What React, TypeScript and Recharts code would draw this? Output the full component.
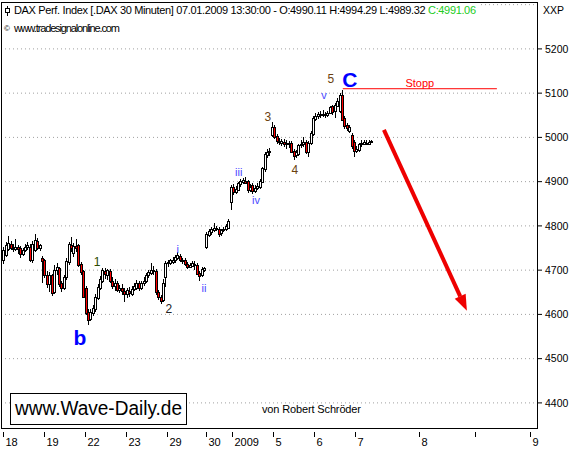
import {
  ComposedChart,
  Bar,
  XAxis,
  YAxis,
  CartesianGrid,
  ReferenceLine,
  ReferenceDot,
} from 'recharts';

// DAX 30-minute candles, [open, high, low, close], one list per trading session
const dec18 = [
  [4723, 4752, 4714, 4746], [4734, 4764, 4730, 4757], [4748, 4778, 4744, 4762], [4760, 4766, 4745, 4750],
  [4750, 4758, 4740, 4748], [4748, 4770, 4744, 4752], [4752, 4757, 4736, 4747], [4750, 4754, 4728, 4736],
  [4736, 4750, 4732, 4745], [4745, 4758, 4741, 4752], [4752, 4764, 4746, 4757], [4753, 4758, 4718, 4724],
  [4722, 4766, 4716, 4760], [4746, 4782, 4742, 4768], [4766, 4772, 4746, 4750], [4750, 4760, 4744, 4756],
  [4728, 4732, 4671, 4720],
];
const dec19 = [
  [4722, 4726, 4682, 4688], [4690, 4698, 4660, 4668], [4668, 4695, 4650, 4690], [4688, 4692, 4642, 4648],
  [4650, 4712, 4645, 4700], [4700, 4716, 4688, 4706], [4704, 4708, 4662, 4668], [4670, 4676, 4650, 4660],
  [4660, 4690, 4655, 4684], [4684, 4728, 4678, 4720], [4718, 4764, 4712, 4758], [4756, 4775, 4740, 4750],
  [4738, 4762, 4730, 4755], [4755, 4770, 4742, 4750], [4756, 4760, 4708, 4712], [4714, 4718, 4690, 4696],
  [4698, 4700, 4636, 4640],
];
const dec22 = [
  [4660, 4664, 4598, 4604], [4606, 4612, 4576, 4588], [4590, 4612, 4584, 4605], [4604, 4622, 4596, 4615],
  [4612, 4646, 4606, 4640], [4638, 4668, 4632, 4662], [4660, 4686, 4655, 4680], [4676, 4705, 4670, 4700],
  [4698, 4704, 4680, 4692], [4690, 4703, 4678, 4700], [4698, 4702, 4670, 4675], [4676, 4684, 4658, 4664],
  [4664, 4680, 4652, 4672], [4672, 4676, 4650, 4656], [4656, 4666, 4648, 4660], [4660, 4668, 4644, 4652],
  [4654, 4660, 4628, 4646],
];
const dec23 = [
  [4646, 4660, 4636, 4656], [4654, 4662, 4640, 4648], [4646, 4664, 4642, 4658], [4658, 4670, 4652, 4664],
  [4660, 4678, 4656, 4672], [4672, 4676, 4654, 4660], [4660, 4676, 4656, 4670], [4670, 4684, 4664, 4676],
  [4676, 4694, 4670, 4690], [4688, 4700, 4682, 4696], [4694, 4716, 4688, 4700], [4700, 4710, 4690, 4698],
  [4698, 4702, 4644, 4650], [4650, 4656, 4632, 4640], [4640, 4644, 4624, 4630], [4632, 4680, 4628, 4672],
  [4684, 4720, 4662, 4716],
];
const dec29 = [
  [4716, 4724, 4708, 4718], [4716, 4726, 4712, 4722], [4718, 4730, 4714, 4724], [4722, 4734, 4716, 4730],
  [4728, 4740, 4722, 4734], [4732, 4736, 4718, 4722], [4722, 4728, 4714, 4720], [4724, 4728, 4710, 4714],
  [4714, 4718, 4702, 4708], [4708, 4716, 4704, 4712], [4710, 4720, 4706, 4716], [4714, 4720, 4700, 4712],
  [4712, 4716, 4688, 4692], [4694, 4698, 4676, 4686], [4688, 4706, 4684, 4702], [4700, 4708, 4696, 4704],
];
const dec30 = [
  [4752, 4786, 4748, 4782], [4780, 4792, 4774, 4788], [4786, 4798, 4780, 4792], [4790, 4806, 4786, 4796],
  [4796, 4800, 4788, 4794], [4794, 4798, 4774, 4782], [4784, 4794, 4778, 4790], [4790, 4798, 4786, 4794],
  [4792, 4804, 4788, 4800], [4796, 4816, 4792, 4812],
];
const jan2 = [
  [4855, 4892, 4836, 4888], [4888, 4894, 4870, 4876], [4876, 4890, 4872, 4884], [4882, 4900, 4878, 4896],
  [4894, 4906, 4888, 4902], [4900, 4908, 4894, 4904], [4902, 4910, 4894, 4898], [4902, 4904, 4874, 4880],
  [4882, 4894, 4876, 4888], [4892, 4896, 4872, 4878], [4878, 4892, 4874, 4886], [4886, 4896, 4880, 4890],
  [4888, 4906, 4884, 4902], [4900, 4934, 4896, 4930], [4928, 4968, 4922, 4962], [4960, 4974, 4954, 4968],
  [4966, 4976, 4958, 4970],
];
const jan5 = [
  [5006, 5034, 5000, 5024], [5024, 5028, 4996, 5002], [5004, 5008, 4986, 4992], [4992, 4998, 4982, 4990],
  [4988, 4996, 4980, 4992], [4990, 4996, 4978, 4986], [4986, 4994, 4974, 4988], [4988, 4992, 4976, 4984],
  [4988, 4992, 4964, 4968], [4970, 4974, 4950, 4958], [4960, 4972, 4954, 4966], [4962, 4986, 4958, 4982],
  [4982, 4994, 4976, 4986], [4984, 5000, 4978, 4990], [4990, 4994, 4962, 4966], [4966, 4992, 4956, 4988],
  [4988, 5014, 4982, 5010], [5008, 5048, 5004, 5044],
];
const jan6 = [
  [5042, 5056, 5036, 5048], [5048, 5058, 5042, 5052], [5052, 5060, 5044, 5050], [5050, 5062, 5046, 5054],
  [5054, 5058, 5044, 5050], [5050, 5060, 5046, 5056], [5056, 5072, 5052, 5068], [5072, 5074, 5050, 5058],
  [5060, 5078, 5044, 5074], [5072, 5088, 5068, 5082], [5060, 5100, 5056, 5096], [5096, 5108, 5036, 5040],
  [5044, 5048, 5020, 5026], [5028, 5032, 5014, 5022], [5014, 5028, 5010, 5024], [5006, 5010, 4974, 4980],
  [4990, 4994, 4956, 4970],
];
const jan7 = [
  [4970, 4980, 4964, 4974], [4972, 4988, 4966, 4984], [4984, 4994, 4978, 4988], [4986, 4994, 4982, 4990],
  [4988, 4994, 4982, 4986], [4986, 4994, 4984, 4990], [4990.11, 4994.29, 4989.32, 4991.06],
];
const sessions = [dec18, dec19, dec22, dec23, dec29, dec30, jan2, jan5, jan6, jan7];

// time axis: bar slots where each date label sits (8 / blank / 9 lie in the projection area)
const xTickSlots = [0.8, 17.8, 34.7, 51.7, 68.6, 84.7, 95.5, 112.4, 129.3, 146.3, 172.7, 195.9, 218.6];
const xTickLabels = ['18', '19', '22', '23', '29', '30', '2009', '5', '6', '7', '8', '', '9'];
const priceTicks = [4400, 4500, 4600, 4700, 4800, 4900, 5000, 5100, 5200];
const gridPrices = [4400, 4500, 4600, 4700, 4800, 4900, 5000, 5100, 5200, 5300];

const stopLevel = 5110;
const stopFrom = 141.3;
const stopTo = 205;
const arrowStart = { x: 158.3, y: 5017 };
const arrowEnd = { x: 192.6, y: 4608 };

// Elliott wave counts: [text, bar slot, price, style]
const waveLabels: [string, number, number, string][] = [
  ['b', 32.6, 4547, 'major'],
  ['C', 144.2, 5130, 'major'],
  ['1', 39.7, 4719, 'one'],
  ['2', 69.4, 4612, 'two'],
  ['3', 110.3, 5046, 'wave'],
  ['4', 121.5, 4927, 'wave'],
  ['5', 136.4, 5132, 'wave'],
  ['i', 73.1, 4748, 'minor'],
  ['ii', 83.9, 4660, 'minor'],
  ['iii', 98.3, 4922, 'minor'],
  ['iv', 105.4, 4859, 'minor'],
  ['v', 133.5, 5096, 'minor'],
];

const FONT = '"Liberation Sans", Arial, sans-serif';

const labelStyles: Record<string, { fill: string; fontSize: number; fontWeight: string }> = {
  major: { fill: '#0000ff', fontSize: 21, fontWeight: 'bold' },
  one: { fill: '#2d4a00', fontSize: 12, fontWeight: 'normal' },
  two: { fill: '#222222', fontSize: 12, fontWeight: 'normal' },
  wave: { fill: '#6b3f10', fontSize: 12, fontWeight: 'normal' },
  minor: { fill: '#4a4aff', fontSize: 11, fontWeight: 'normal' },
};

const candles = sessions.flat().map((row, idx) => {
  const [o, h, l, c] = row;
  return { i: idx + 1, o, h, l, c, range: [l, h] };
});

const Candle = (props: any) => {
  const { x, y, width, height, payload } = props;
  if (!payload) return null;
  const top = height < 0 ? y + height : y;
  const span = Math.abs(height);
  const { o, h, l, c } = payload;
  const k = h > l ? span / (h - l) : 0;
  const py = (v: number) => top + (h - v) * k;
  const cx = Math.round(x + width / 2);
  const bodyTop = Math.round(py(Math.max(o, c)));
  const bodyBot = Math.round(py(Math.min(o, c)));
  return (
    <g>
      <line x1={cx + 0.5} x2={cx + 0.5} y1={Math.round(top)} y2={Math.round(top + span)} stroke="#000" />
      <rect
        x={cx - 0.5}
        y={bodyTop + 0.5}
        width={2}
        height={Math.max(bodyBot - bodyTop, 1)}
        fill={c >= o ? '#ffffff' : '#ff0000'}
        stroke="#000"
      />
    </g>
  );
};

const DayTick = (props: any) => {
  const { x, y, payload } = props;
  const idx = xTickSlots.indexOf(payload.value);
  const text = idx >= 0 ? xTickLabels[idx] : '';
  const px = Math.round(x) + 0.5;
  return (
    <g>
      <line x1={px} x2={px} y1={y + 3} y2={y + 8} stroke="#000" />
      <text x={px + 2} y={y + 17} fontSize={11} fontFamily={FONT} fill="#000">
        {text}
      </text>
    </g>
  );
};

const Arrow = (props: any) => {
  const { x1, y1, x2, y2 } = props;
  const ang = Math.atan2(y2 - y1, x2 - x1);
  const cos = Math.cos(ang);
  const sin = Math.sin(ang);
  const len = 16;
  const half = 6;
  const bx = x2 - len * cos;
  const by = y2 - len * sin;
  const pts = `${x2},${y2} ${bx + half * sin},${by - half * cos} ${bx - half * sin},${by + half * cos}`;
  return (
    <g>
      <line x1={x1} y1={y1} x2={bx} y2={by} stroke="#ee0000" strokeWidth={4} />
      <polygon points={pts} fill="#ee0000" />
    </g>
  );
};

export default function App() {
  return (
    <div style={{ position: 'absolute', left: 0, top: 0, width: 580, height: 449, background: '#fff' }}>
      <ComposedChart
        width={580}
        height={449}
        data={candles}
        margin={{ top: 2, right: 0, left: 1, bottom: 0 }}
      >
        <CartesianGrid
          vertical={false}
          horizontalValues={gridPrices}
          stroke="#a0a0a0"
          strokeDasharray="1 3"
        />
        <XAxis
          dataKey="i"
          type="number"
          domain={[0, 222]}
          ticks={xTickSlots}
          interval={0}
          allowDataOverflow
          tick={<DayTick />}
          tickLine={false}
          axisLine={false}
          tickSize={0}
          tickMargin={0}
          height={20}
        />
        <YAxis
          orientation="right"
          type="number"
          domain={[4341, 5306]}
          ticks={priceTicks}
          interval={0}
          allowDataOverflow
          width={42}
          tickSize={4}
          tickMargin={3}
          axisLine={false}
          tickLine={{ stroke: '#000' }}
          tick={{ fill: '#000', fontSize: 10.5, fontFamily: FONT }}
        />
        <Bar dataKey="range" barSize={3} isAnimationActive={false} shape={(p: any) => <Candle {...p} />} />
        <ReferenceLine
          segment={[{ x: stopFrom, y: stopLevel }, { x: stopTo, y: stopLevel }]}
          stroke="#ff0000"
          strokeWidth={1}
          label={{ value: 'Stopp', position: 'top', offset: 2, fill: '#ff0000', fontSize: 11, fontFamily: FONT }}
        />
        <ReferenceLine
          segment={[arrowStart, arrowEnd]}
          stroke="#ee0000"
          shape={(p: any) => <Arrow {...p} />}
        />
        {waveLabels.map(([text, bar, price, style]) => (
          <ReferenceDot
            key={text + bar}
            x={bar}
            y={price}
            r={0}
            ifOverflow="visible"
            shape={(p: any) => (
              <text
                x={p.cx}
                y={p.cy}
                textAnchor="middle"
                dominantBaseline="central"
                fontFamily={FONT}
                {...labelStyles[style]}
              >
                {text}
              </text>
            )}
          />
        ))}
      </ComposedChart>

      <svg
        width={580}
        height={449}
        style={{ position: 'absolute', left: 0, top: 0, pointerEvents: 'none' }}
        fontFamily={FONT}
      >
        <rect x={1.5} y={2.5} width={536} height={426} fill="none" stroke="#000" />
        <rect x={2} y={3} width={478} height={32} fill="#fff" />
        <line x1={7.5} x2={7.5} y1={6} y2={16} stroke="#000" />
        <rect x={5.5} y={8.5} width={4} height={4} fill="#fff" stroke="#000" />
        <text x={14} y={14} fontSize={11} fill="#000" textLength={462} lengthAdjust="spacing">
          DAX Perf. Index [.DAX  30 Minuten] 07.01.2009 13:30:00 - O:4990.11 H:4994.29 L:4989.32{' '}
          <tspan fill="#22cc22">C:4991.06</tspan>
        </text>
        <text x={4} y={31} fontSize={8} fill="#000">©</text>
        <text x={14} y={32} fontSize={11} fill="#000" textLength={106} lengthAdjust="spacing">
          www.tradesignalonline.com
        </text>
        <text x={543} y={14} fontSize={10.5} fill="#000">XXP</text>
        <rect x={10.5} y={393.5} width={176} height={31} fill="#fff" stroke="#000" />
        <text x={15} y={415} fontSize={20} fill="#000" textLength={167} lengthAdjust="spacingAndGlyphs">
          www.Wave-Daily.de
        </text>
        <text x={262} y={413} fontSize={11} fill="#000" textLength={99} lengthAdjust="spacing">
          von Robert Schröder
        </text>
      </svg>
    </div>
  );
}
